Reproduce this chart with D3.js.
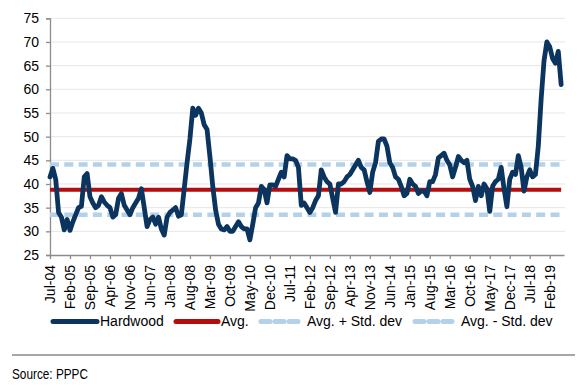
<!DOCTYPE html>
<html>
<head>
<meta charset="utf-8">
<script src="https://cdn.jsdelivr.net/npm/d3@7/dist/d3.min.js"></script>
<style>
  html, body { margin: 0; padding: 0; background: #fff; }
  svg { display: block; }
  text { font-family: "Liberation Sans", Arial, sans-serif; fill: #000; }
</style>
</head>
<body>
<svg id="chart" width="587" height="390"></svg>
<script>
// ---- Data ----
const startMonth = "Jul-04";
const hardwood = [
  41.5, 43.3, 41, 34, 33, 30.3, 32.5, 30.2, 32, 33.5, 35, 35.3,
  41.5, 42.2, 37.3, 36, 35, 35.5, 37.3, 36.2, 35.5, 35, 33, 33.5,
  37, 38, 35.5, 34.5, 33.5, 35, 36, 37, 39, 35, 31, 32.5,
  33, 31.5, 33, 30.5, 29.2, 33, 34, 34.5, 35, 33.2, 33.5, 39,
  44.5, 49.5, 56, 54.5, 56, 55, 52.5, 51.5, 45.8, 39.5, 34.5, 31.5,
  30.5, 30.3, 31, 30, 30, 31, 32, 31, 30.5, 30.5, 28.2, 31.5,
  35, 36, 39.5, 38.8, 36, 39.8, 39.8, 39.5, 41, 42.5, 41.5, 46,
  45.3, 45.3, 45, 43.5, 35.5, 36, 35, 34, 35, 36.5, 37.5, 43,
  41.5, 40.5, 40, 37, 34, 40, 40, 40.5, 41.5, 42, 43, 44,
  45, 43.5, 43, 40.5, 38.2, 42.5, 44.5, 49, 49.5, 49.5, 48, 44.5,
  43.5, 41.5, 41, 39.5, 37.5, 38, 41, 40, 39.5, 38, 38.5, 38.5,
  37.5, 40.5, 40.5, 42, 45.5, 46, 46.5, 45, 44, 41.5, 43.5, 45.8,
  45, 44.5, 45, 41, 39.5, 36.5, 39.5, 37.5, 40, 39, 34.2, 39.5,
  40.5, 41, 43.5, 39, 35.2, 41, 42.5, 42, 46, 43.5, 38.5, 41.5,
  43, 41.5, 42, 48, 58, 66, 70, 69, 66.5, 65.5, 68, 61
];
const avgValue = 38.8;
const stdValue = 5.3;
const yTicks = [25, 30, 35, 40, 45, 50, 55, 60, 65, 70, 75];
const xTickLabels = ["Jul-04","Feb-05","Sep-05","Apr-06","Nov-06","Jun-07","Jan-08","Aug-08","Mar-09","Oct-09","May-10","Dec-10","Jul-11","Feb-12","Sep-12","Apr-13","Nov-13","Jun-14","Jan-15","Aug-15","Mar-16","Oct-16","May-17","Dec-17","Jul-18","Feb-19"];
const tickStep = 7; // months between labels
const legendItems = ["Hardwood", "Avg.", "Avg. + Std. dev", "Avg. - Std. dev"];
const sourceText = "Source: PPPC";

// ---- Layout ----
const svg = d3.select("#chart");
const mLeft = 50, mRight = 564, mTop = 18.3, mBottom = 255;
const nMonths = hardwood.length;

const x = d3.scaleLinear().domain([0, nMonths]).range([mLeft, mRight]);
const y = d3.scaleLinear().domain([25, 75]).range([mBottom, mTop]);

const colors = { hw: "#0b355f", avg: "#b50d0d", std: "#b3d2ea" };

// gridlines
svg.append("g").selectAll("line").data(yTicks.filter(d => d > 25)).join("line")
  .attr("x1", mLeft).attr("x2", mRight + 1)
  .attr("y1", d => y(d)).attr("y2", d => y(d))
  .attr("stroke", "#e6e6e6").attr("stroke-width", 1);

// y axis
const yAxis = d3.axisLeft(y).tickValues(yTicks).tickSize(4).tickPadding(7).tickFormat(d3.format("d"));
const gy = svg.append("g").attr("transform", `translate(${mLeft},0)`).call(yAxis);
gy.select(".domain").attr("stroke", "#8c8c8c").attr("stroke-width", 1.3);
gy.selectAll(".tick line").attr("stroke", "#8c8c8c").attr("stroke-width", 1.3);
gy.selectAll(".tick text").style("font-size", "14px").style("font-family", "'Liberation Sans', Arial, sans-serif").attr("fill", "#000");

// x axis
const xTickVals = xTickLabels.map((d, i) => i * tickStep);
const xAxis = d3.axisBottom(x).tickValues(xTickVals).tickSize(4).tickSizeOuter(0)
  .tickFormat((d, i) => xTickLabels[i]);
const gx = svg.append("g").attr("transform", `translate(0,${mBottom})`).call(xAxis);
gx.select(".domain").attr("stroke", "#8c8c8c").attr("stroke-width", 1.3);
gx.selectAll(".tick line").attr("stroke", "#8c8c8c").attr("stroke-width", 1.3);
gx.selectAll(".tick text")
  .style("font-size", "14px").style("font-family", "'Liberation Sans', Arial, sans-serif").attr("fill", "#000")
  .attr("text-anchor", "end")
  .attr("transform", "rotate(-90)")
  .attr("x", -10).attr("y", 0).attr("dy", "0.35em");

// reference lines
const refs = [
  { v: avgValue + stdValue, c: colors.std, dash: "9,5.3", w: 4.5 },
  { v: avgValue - stdValue, c: colors.std, dash: "9,5.3", w: 4.5 },
  { v: avgValue, c: colors.avg, dash: null, w: 4 }
];
svg.append("g").selectAll("line").data(refs).join("line")
  .attr("x1", x(0)).attr("x2", x(nMonths - 1))
  .attr("y1", d => y(d.v)).attr("y2", d => y(d.v))
  .attr("stroke", d => d.c).attr("stroke-width", d => d.w)
  .attr("stroke-dasharray", d => d.dash);

// hardwood line
const line = d3.line().x((d, i) => x(i)).y(d => y(d));
svg.append("path").datum(hardwood)
  .attr("d", line).attr("fill", "none")
  .attr("stroke", colors.hw).attr("stroke-width", 4.8)
  .attr("stroke-linejoin", "round").attr("stroke-linecap", "round");

// legend
const legY = 321.5;
const legendPos = [
  { x1: 53, x2: 97, tx: 100, c: colors.hw, dash: null, w: 5 },
  { x1: 176, x2: 218, tx: 221, c: colors.avg, dash: null, w: 5 },
  { x1: 261, x2: 303, tx: 307, c: colors.std, dash: "9,5", w: 5 },
  { x1: 415, x2: 457, tx: 461, c: colors.std, dash: "9,5", w: 5 }
];
const lg = svg.append("g");
legendItems.forEach((name, i) => {
  const p = legendPos[i];
  lg.append("line").attr("x1", p.x1).attr("x2", p.x2).attr("y1", legY).attr("y2", legY)
    .attr("stroke", p.c).attr("stroke-width", p.w).attr("stroke-linecap", "round")
    .attr("stroke-dasharray", p.dash);
  lg.append("text").attr("x", p.tx).attr("y", legY).attr("dy", "0.35em")
    .style("font-size", "14px").text(name);
});

// separator + source
svg.append("line").attr("x1", 12).attr("x2", 575).attr("y1", 355).attr("y2", 355)
  .attr("stroke", "#8a8a8a").attr("stroke-width", 1.3);
svg.append("text").attr("x", 12).attr("y", 379)
  .attr("textLength", 76).attr("lengthAdjust", "spacingAndGlyphs")
  .style("font-size", "15px").attr("fill", "#333").text(sourceText);
</script>
</body>
</html>
